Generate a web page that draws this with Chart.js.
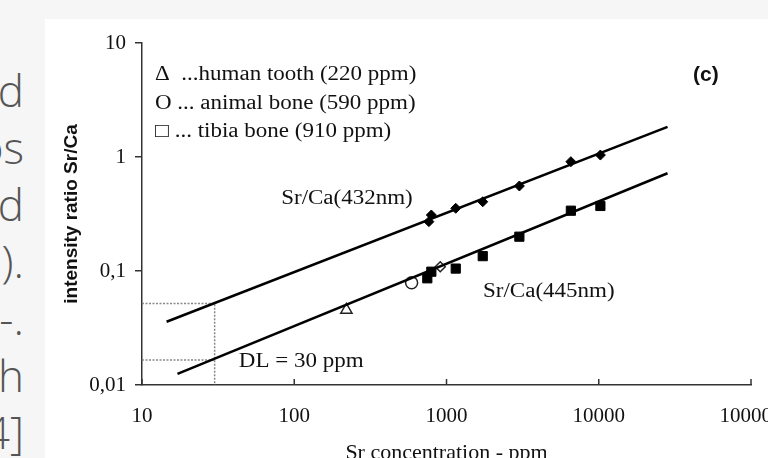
<!DOCTYPE html>
<html><head><meta charset="utf-8">
<script src="https://cdn.jsdelivr.net/npm/chart.js@4.4.1/dist/chart.umd.min.js"></script>
<style>
html,body{margin:0;padding:0;width:768px;height:458px;overflow:hidden;background:#f6f6f6;}
#panel{position:absolute;left:45px;top:19px;width:723px;height:439px;background:#fff;}
#wrap{position:absolute;left:0;top:0;width:768px;height:475px;}
.side{position:absolute;left:-198px;top:62px;width:222px;text-align:right;font-family:"Open Sans";font-weight:300;font-size:44px;color:#555;line-height:57px;white-space:pre;}
</style></head><body>
<div id="panel"></div>
<div class="side" id="side"></div>
<div id="wrap"><canvas id="c" width="768" height="475"></canvas></div>
<script>
// ---- data ----
const sideText = ['d','os','d',').','-.','h','4]'];
const xTicks = [10, 100, 1000, 10000, 100000];
const xTickLabels = ['10', '100', '1000', '10000', '100000'];
const yTicks = [0.01, 0.1, 1, 10];
const yTickLabels = ['0,01', '0,1', '1', '10'];
const conc432 = [766, 795, 1150, 1730, 3010, 6560, 10250];
const ratio432 = [0.271, 0.31, 0.355, 0.405, 0.557, 0.91, 1.04];
const conc445 = [748, 795, 1150, 1730, 3010, 6560, 10250];
const ratio445 = [0.0863, 0.0986, 0.105, 0.135, 0.20, 0.338, 0.372];
const toothConc = [220];  const toothRatio = [0.0455];
const boneConc = [590];   const boneRatio = [0.079];
const tibiaConc = [910];  const tibiaRatio = [0.109];
const fit432Conc = [14.5, 28300]; const fit432Ratio = [0.0359, 1.84];
const fit445Conc = [17.1, 28300]; const fit445Ratio = [0.0125, 0.72];
const dlUpperConc = [10, 30, 30]; const dlUpperRatio = [0.052, 0.052, 0.01];
const dlLowerConc = [10, 30];     const dlLowerRatio = [0.0166, 0.0166];
const annoText = ['Sr/Ca(432nm)', 'Sr/Ca(445nm)', 'DL = 30 ppm'];
const annoConc = [222, 4700, 111];
const annoRatio = [0.43, 0.0655, 0.0159];
const legendLines = ['\u0394  ...human tooth (220 ppm)', 'O ... animal bone (590 ppm)', '\u25A1 ... tibia bone (910 ppm)'];
const panelLabel = '(c)'; const panelLabelConc = 50500; const panelLabelRatio = 5.24;

document.getElementById('side').textContent = sideText.join('\n');

const pts = (xs, ys) => xs.map((x, i) => ({x: x, y: ys[i]}));
const serif = 'Liberation Serif';
const ink = '#111';

function wideText(ctx, t, x, y, align, sx) {
  ctx.save();
  ctx.translate(x, y);
  ctx.scale(sx, 1);
  ctx.textAlign = align;
  ctx.fillText(t, 0, 0);
  ctx.restore();
}

const textPlugin = {
  id: 'texts',
  afterDraw(chart) {
    const ctx = chart.ctx, xs = chart.scales.x, ys = chart.scales.y, a = chart.chartArea;
    ctx.save();
    // inward ticks on x axis
    ctx.strokeStyle = '#333'; ctx.lineWidth = 1.5;
    xs.ticks.forEach(t => {
      const px = xs.getPixelForValue(t.value);
      ctx.beginPath(); ctx.moveTo(px, a.bottom); ctx.lineTo(px, a.bottom - 6); ctx.stroke();
    });
    ctx.fillStyle = ink;
    ctx.font = '20px "' + serif + '"';
    ctx.textBaseline = 'middle';
    annoText.forEach((t, i) => {
      wideText(ctx, t, xs.getPixelForValue(annoConc[i]), ys.getPixelForValue(annoRatio[i]), 'center', 1.15);
    });
    legendLines.forEach((t, i) => {
      wideText(ctx, t, a.left + 13, a.top + 32 + i * 28.5, 'left', 1.15);
    });
    ctx.font = 'bold 21px "Liberation Sans"';
    wideText(ctx, panelLabel, xs.getPixelForValue(panelLabelConc), ys.getPixelForValue(panelLabelRatio), 'center', 1);
    ctx.restore();
  }
};

new Chart(document.getElementById('c'), {
  type: 'scatter',
  data: {
    datasets: [
      {data: pts(fit432Conc, fit432Ratio), showLine: true, borderColor: '#000', borderWidth: 2.5, pointRadius: 0},
      {data: pts(fit445Conc, fit445Ratio), showLine: true, borderColor: '#000', borderWidth: 2.5, pointRadius: 0},
      {data: pts(dlUpperConc, dlUpperRatio), showLine: true, borderColor: '#888', borderWidth: 1.5, borderDash: [2, 1.5], pointRadius: 0},
      {data: pts(dlLowerConc, dlLowerRatio), showLine: true, borderColor: '#888', borderWidth: 1.5, borderDash: [2, 1.5], pointRadius: 0},
      {data: pts(conc432, ratio432), pointStyle: 'rectRot', pointRadius: 5, backgroundColor: '#000', borderColor: '#000', borderWidth: 1},
      {data: pts(conc445, ratio445), pointStyle: 'rect', pointRadius: 6.5, backgroundColor: '#000', borderColor: '#000', borderWidth: 1},
      {data: pts(toothConc, toothRatio), pointStyle: 'triangle', pointRadius: 6.5, backgroundColor: '#fff', borderColor: '#222', borderWidth: 1.5},
      {data: pts(boneConc, boneRatio), pointStyle: 'circle', pointRadius: 6, backgroundColor: '#fff', borderColor: '#222', borderWidth: 1.5},
      {data: pts(tibiaConc, tibiaRatio), pointStyle: 'rectRot', pointRadius: 5, backgroundColor: '#fff', borderColor: '#222', borderWidth: 1.5}
    ]
  },
  options: {
    responsive: false,
    animation: false,
    devicePixelRatio: 1,
    layout: {padding: {left: 0, right: 17, top: 43, bottom: 0}},
    plugins: {legend: {display: false}, tooltip: {enabled: false}},
    scales: {
      x: {
        type: 'logarithmic', min: 10, max: 100000, position: 'bottom',
        afterBuildTicks: s => { s.ticks = xTicks.map(v => ({value: v})); },
        afterFit: s => { s.height = 90; s.paddingLeft = 0; s.paddingRight = 0; },
        ticks: {callback: (v, i) => xTickLabels[i], font: {family: serif, size: 21}, color: ink, padding: 19, maxRotation: 0, autoSkip: false},
        grid: {display: true, drawOnChartArea: false, drawTicks: false},
        border: {color: '#333', width: 1.5},
        title: {display: true, text: 'Sr concentration - ppm', font: {family: serif, size: 22}, color: ink, padding: {top: 0, bottom: 9}}
      },
      y: {
        type: 'logarithmic', min: 0.01, max: 10,
        afterBuildTicks: s => { s.ticks = yTicks.map(v => ({value: v})); },
        afterFit: s => { s.width = 142; s.paddingTop = 0; s.paddingBottom = 0; },
        ticks: {callback: (v, i) => yTickLabels[i], font: {family: serif, size: 21}, color: ink, padding: 9, autoSkip: false},
        grid: {drawOnChartArea: false, drawTicks: true, tickLength: 7, color: '#333', lineWidth: 1.5},
        border: {color: '#333', width: 1.5},
        title: {display: true, text: 'intensity ratio Sr/Ca', font: {family: '"Liberation Sans Narrow", "Liberation Sans"', weight: 'bold', size: 19}, color: ink, padding: {top: 60, bottom: 0}}
      }
    }
  },
  plugins: [textPlugin]
});
</script>
</body></html>
